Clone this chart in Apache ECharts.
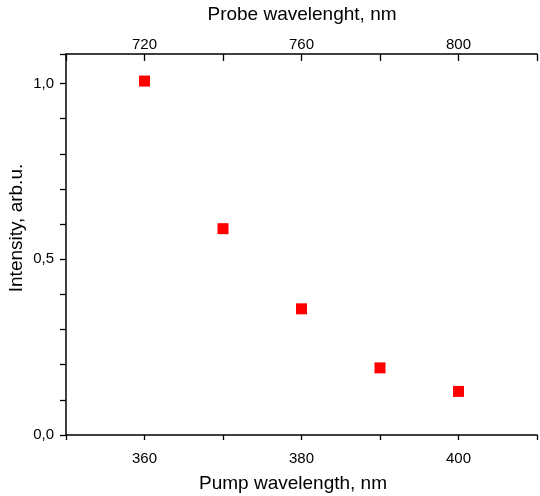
<!DOCTYPE html>
<html>
<head>
<meta charset="utf-8">
<script src="https://cdn.jsdelivr.net/npm/echarts@6/dist/echarts.min.js"></script>
<style>
html,body{margin:0;padding:0;background:#fff;}
#chart{width:540px;height:496px;}
</style>
</head>
<body>
<div id="chart"></div>
<script>
const pumpWavelength = [360, 370, 380, 390, 400];
const intensity = [1.007, 0.587, 0.359, 0.191, 0.124];
const bottomTickLabels = [360, 380, 400];
const topTickLabels = [720, 760, 800];
const yTickLabels = [0, 0.5, 1.0];
const bottomTitle = 'Pump wavelength, nm';
const topTitle = 'Probe wavelenght, nm';
const yTitle = 'Intensity, arb.u.';

const FONT = '"Liberation Sans", Arial, sans-serif';
const near = (v, list) => list.some(t => Math.abs(v - t) < 1e-6);

const chart = echarts.init(document.getElementById('chart'), null, {renderer: 'canvas'});
chart.setOption({
  animation: false,
  backgroundColor: '#fff',
  grid: {left: 66, right: 1, top: 54, bottom: 61, containLabel: false},
  xAxis: [
    {
      type: 'value', position: 'bottom', min: 350, max: 410, interval: 10,
      axisLine: {show: true, onZero: false, lineStyle: {color: '#000', width: 1.5}},
      axisTick: {show: true, length: 5, lineStyle: {color: '#000', width: 1.3}},
      axisLabel: {
        margin: 16, fontFamily: FONT, fontSize: 15, color: '#000',
        showMinLabel: true, showMaxLabel: true,
        formatter: v => near(v, bottomTickLabels) ? String(Math.round(v)) : ''
      },
      splitLine: {show: false}
    },
    {
      type: 'value', position: 'top', min: 700, max: 820, interval: 20,
      axisLine: {show: true, onZero: false, lineStyle: {color: '#000', width: 1.5}},
      axisTick: {show: true, inside: true, length: 7, lineStyle: {color: '#000', width: 1.3}},
      axisLabel: {
        margin: 2, fontFamily: FONT, fontSize: 15, color: '#000',
        formatter: v => near(v, topTickLabels) ? String(Math.round(v)) : ''
      },
      splitLine: {show: false}
    }
  ],
  yAxis: {
    type: 'value', min: 0, max: 1.084, interval: 0.1,
    axisLine: {show: true, onZero: false, lineStyle: {color: '#000', width: 1.5}},
    axisTick: {show: true, length: 6, lineStyle: {color: '#000', width: 1.3}},
    axisLabel: {
      margin: 12, fontFamily: FONT, fontSize: 15, color: '#000',
      formatter: v => near(v, yTickLabels) ? v.toFixed(1).replace('.', ',') : ''
    },
    splitLine: {show: false}
  },
  series: [{
    type: 'scatter',
    xAxisIndex: 0, yAxisIndex: 0,
    symbol: 'rect', symbolSize: 11,
    itemStyle: {color: '#ff0000', opacity: 1},
    data: pumpWavelength.map((x, i) => [x, intensity[i]])
  }],
  graphic: [
    {type: 'text', x: 302, y: 15, style: {text: topTitle, font: '19px ' + FONT, fill: '#000', align: 'center', verticalAlign: 'middle'}},
    {type: 'text', x: 293, y: 484, style: {text: bottomTitle, font: '19px ' + FONT, fill: '#000', align: 'center', verticalAlign: 'middle'}},
    {type: 'text', x: 17, y: 228, rotation: Math.PI / 2, style: {text: yTitle, font: '19px ' + FONT, fill: '#000', align: 'center', verticalAlign: 'middle'}}
  ]
});
</script>
</body>
</html>
